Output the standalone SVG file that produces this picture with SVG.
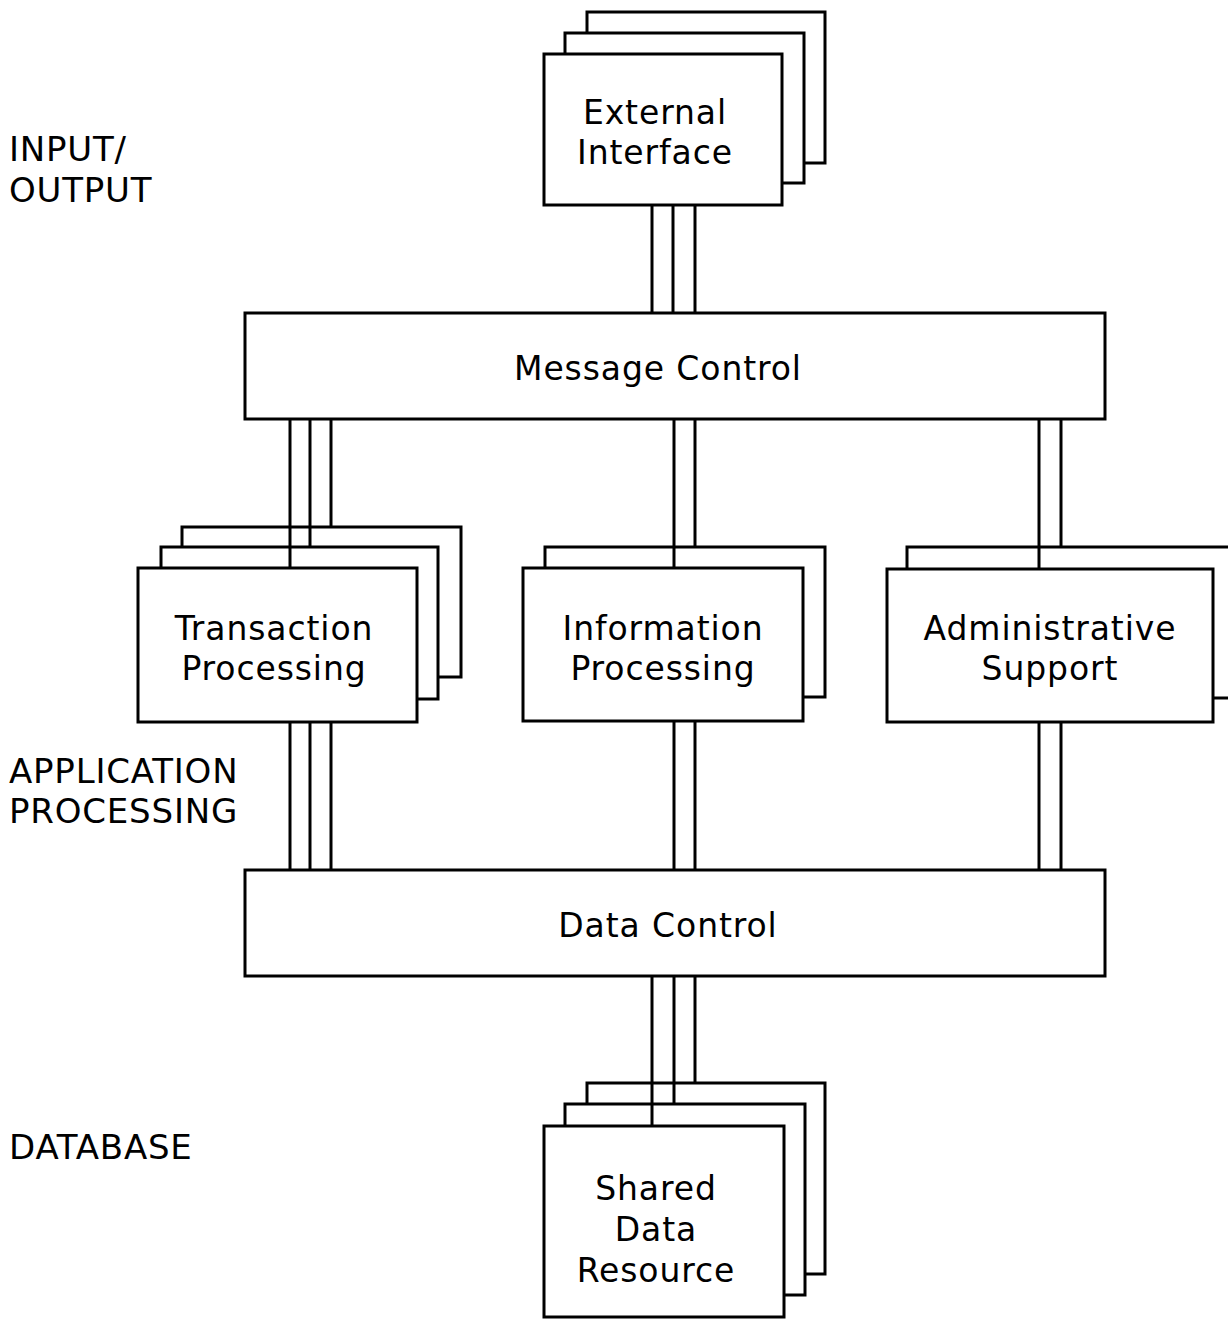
<svg xmlns="http://www.w3.org/2000/svg" width="1228" height="1320" viewBox="0 0 1228 1320">
<style>
.box{fill:#fff;stroke:#000;stroke-width:3}
.conn{stroke:#000;stroke-width:3;fill:none}
.t{font-family:"DejaVu Sans","Liberation Sans",sans-serif;font-size:33px;fill:#000;text-anchor:middle;letter-spacing:0.9px}
.lbl{font-family:"DejaVu Sans","Liberation Sans",sans-serif;font-size:34px;fill:#000;letter-spacing:0.8px}
</style>
<rect width="1228" height="1320" fill="#fff"/>

<g id="layer-labels">
<text class="lbl" x="9" y="161">INPUT/</text>
<text class="lbl" x="9" y="202">OUTPUT</text>
<text class="lbl" x="9" y="783">APPLICATION</text>
<text class="lbl" x="9" y="823">PROCESSING</text>
<text class="lbl" x="9" y="1159">DATABASE</text>
</g>

<g id="external-interface">
<rect class="box" x="587" y="12" width="238" height="151"/>
<rect class="box" x="565" y="33" width="239" height="150"/>
<rect class="box" x="544" y="54" width="238" height="151"/>
<text class="t" x="655" y="124">External</text>
<text class="t" x="655" y="164">Interface</text>
</g>

<g id="message-control">
<rect class="box" x="245" y="313" width="860" height="106"/>
<text class="t" x="658" y="380">Message Control</text>
</g>

<g id="transaction-processing">
<rect class="box" x="182" y="527" width="279" height="150"/>
<rect class="box" x="161" y="547" width="277" height="152"/>
<rect class="box" x="138" y="568" width="279" height="154"/>
<text class="t" x="274" y="640">Transaction</text>
<text class="t" x="274" y="680">Processing</text>
</g>

<g id="information-processing">
<rect class="box" x="545" y="547" width="280" height="150"/>
<rect class="box" x="523" y="568" width="280" height="153"/>
<text class="t" x="663" y="640">Information</text>
<text class="t" x="663" y="680">Processing</text>
</g>

<g id="administrative-support">
<rect class="box" x="907" y="547" width="400" height="151"/>
<rect class="box" x="887" y="569" width="326" height="153"/>
<text class="t" x="1050" y="640">Administrative</text>
<text class="t" x="1050" y="680">Support</text>
</g>

<g id="data-control">
<rect class="box" x="245" y="870" width="860" height="106"/>
<text class="t" x="668" y="937">Data Control</text>
</g>

<g id="shared-data-resource">
<rect class="box" x="587" y="1083" width="238" height="191"/>
<rect class="box" x="565" y="1104" width="240" height="191"/>
<rect class="box" x="544" y="1126" width="240" height="191"/>
<text class="t" x="656" y="1200">Shared</text>
<text class="t" x="656" y="1241">Data</text>
<text class="t" x="656" y="1282">Resource</text>
</g>

<g id="connectors">
<!-- External Interface to Message Control -->
<line class="conn" x1="652" y1="205" x2="652" y2="313"/>
<line class="conn" x1="673" y1="205" x2="673" y2="313"/>
<line class="conn" x1="695" y1="205" x2="695" y2="313"/>
<!-- Message Control to Transaction Processing -->
<line class="conn" x1="290" y1="419" x2="290" y2="568"/>
<line class="conn" x1="310" y1="419" x2="310" y2="547"/>
<line class="conn" x1="331" y1="419" x2="331" y2="527"/>
<!-- Message Control to Information Processing -->
<line class="conn" x1="674" y1="419" x2="674" y2="568"/>
<line class="conn" x1="695" y1="419" x2="695" y2="547"/>
<!-- Message Control to Administrative Support -->
<line class="conn" x1="1039" y1="419" x2="1039" y2="569"/>
<line class="conn" x1="1061" y1="419" x2="1061" y2="547"/>
<!-- Transaction Processing to Data Control -->
<line class="conn" x1="290" y1="722" x2="290" y2="870"/>
<line class="conn" x1="310" y1="722" x2="310" y2="870"/>
<line class="conn" x1="331" y1="722" x2="331" y2="870"/>
<!-- Information Processing to Data Control -->
<line class="conn" x1="674" y1="721" x2="674" y2="870"/>
<line class="conn" x1="695" y1="721" x2="695" y2="870"/>
<!-- Administrative Support to Data Control -->
<line class="conn" x1="1039" y1="722" x2="1039" y2="870"/>
<line class="conn" x1="1061" y1="722" x2="1061" y2="870"/>
<!-- Data Control to Shared Data Resource -->
<line class="conn" x1="652" y1="976" x2="652" y2="1126"/>
<line class="conn" x1="674" y1="976" x2="674" y2="1104"/>
<line class="conn" x1="695" y1="976" x2="695" y2="1083"/>
</g>
</svg>
